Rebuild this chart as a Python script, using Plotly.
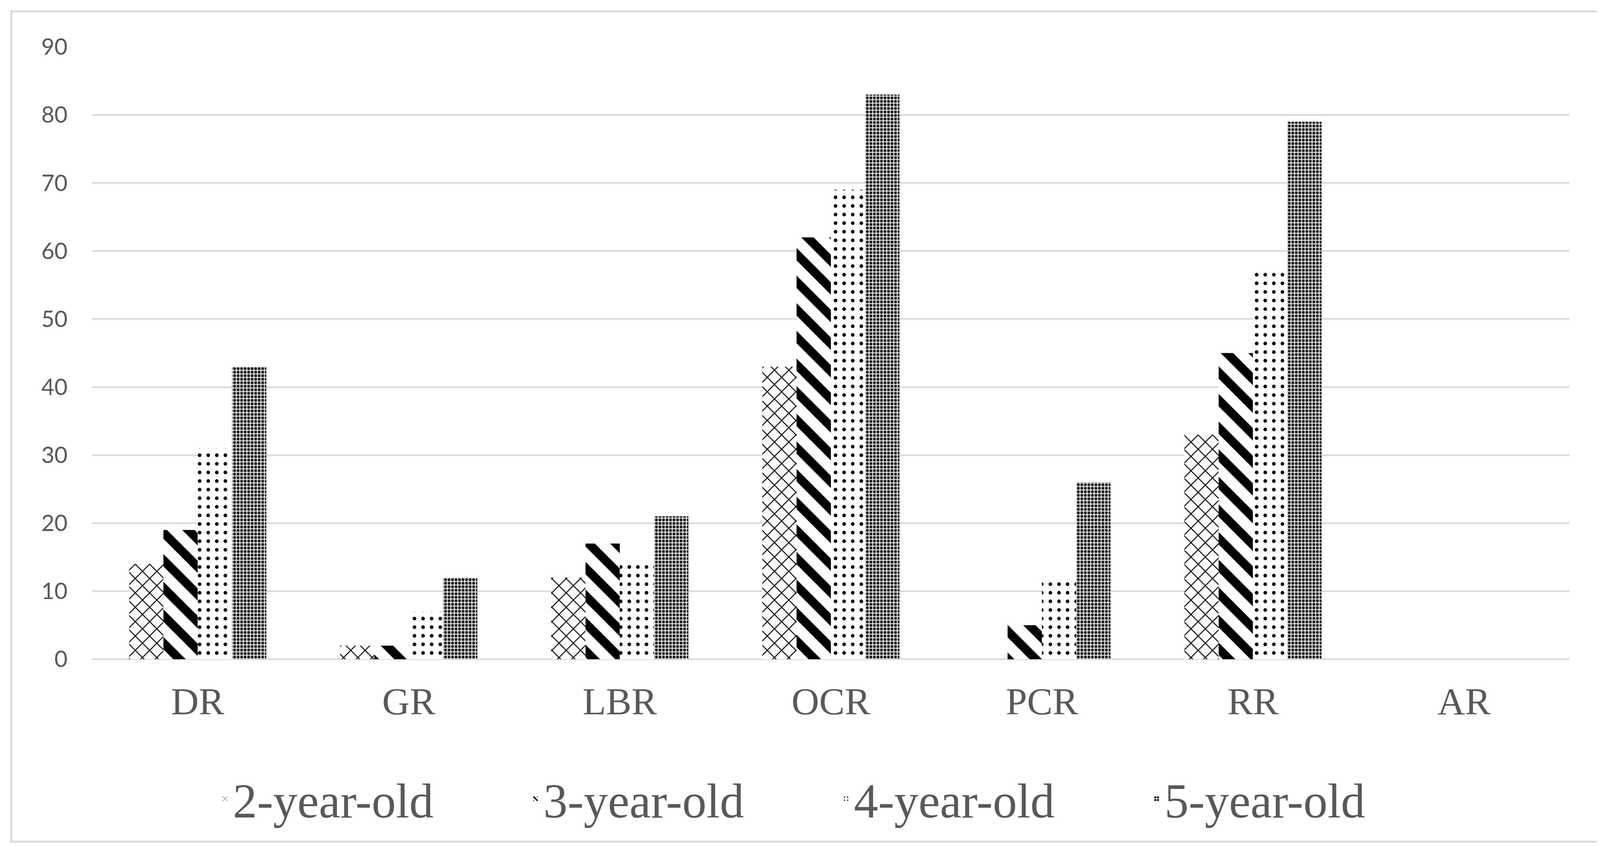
import plotly.graph_objects as go

categories = ["DR", "GR", "LBR", "OCR", "PCR", "RR", "AR"]
series_names = ["2-year-old", "3-year-old", "4-year-old", "5-year-old"]
age2 = [14, 2, 12, 43, 0, 33, 0]
age3 = [19, 2, 17, 62, 5, 45, 0]
age4 = [31, 7, 14, 69, 12, 57, 0]
age5 = [43, 12, 21, 83, 26, 79, 0]
y_ticks = [0, 10, 20, 30, 40, 50, 60, 70, 80, 90]

series_values = [age2, age3, age4, age5]
patterns = [
    dict(shape="x", fgcolor="black", bgcolor="white", fgopacity=1, size=26, solidity=0.18),
    dict(shape="\\", fgcolor="black", bgcolor="white", fgopacity=1, size=50, solidity=0.45),
    dict(shape=".", fgcolor="black", bgcolor="white", fgopacity=1, size=22, solidity=0.14),
    dict(shape=".", fgcolor="#111111", bgcolor="#d0d0d0", fgopacity=1, size=9, solidity=0.45),
]

W, H = 4128, 2165
ml, mr, mt, mb = 228, 118, 112, 486

fig = go.Figure()
for name, vals, pat in zip(series_names, series_values, patterns):
    fig.add_trace(go.Bar(
        x=categories, y=vals, name=name,
        marker=dict(color="white", line=dict(width=0), pattern=pat),
    ))

pw = W - ml - mr
ph = H - mt - mb
# outer chart border (pixel positions converted to paper coords)
bx0, by0, bx1, by1 = 21, 21, 4107, 2146
fig.add_shape(type="rect", xref="paper", yref="paper",
              x0=(bx0 - ml) / pw, x1=(bx1 - ml) / pw,
              y0=(H - mb - by1) / ph, y1=(H - mb - by0) / ph,
              line=dict(color="#d9d9d9", width=5), fillcolor="rgba(0,0,0,0)", layer="below")

fig.update_layout(
    width=W, height=H,
    margin=dict(l=ml, r=mr, t=mt, b=mb),
    paper_bgcolor="white", plot_bgcolor="white",
    barmode="group", bargap=0.35, bargroupgap=0,
    showlegend=True,
    legend=dict(orientation="h", x=0.505, xanchor="center", y=-0.228, yanchor="middle",
                font=dict(family="Liberation Serif", size=124, color="#595959"),
                itemwidth=30, entrywidth=750, entrywidthmode="pixels",
                traceorder="normal"),
    xaxis=dict(showgrid=False, showline=False, ticks="",
               tickfont=dict(family="Liberation Serif", size=98, color="#595959"),
               ticklabelstandoff=42),
    yaxis=dict(range=[0, 90], tickvals=y_ticks, showgrid=True, gridcolor="#d9d9d9", gridwidth=4,
               zeroline=True, zerolinecolor="#d9d9d9", zerolinewidth=4,
               showline=False, ticks="",
               tickfont=dict(family="Lato", size=58, color="#595959"),
               ticklabelstandoff=62),
)

fig.write_html("out.html")
